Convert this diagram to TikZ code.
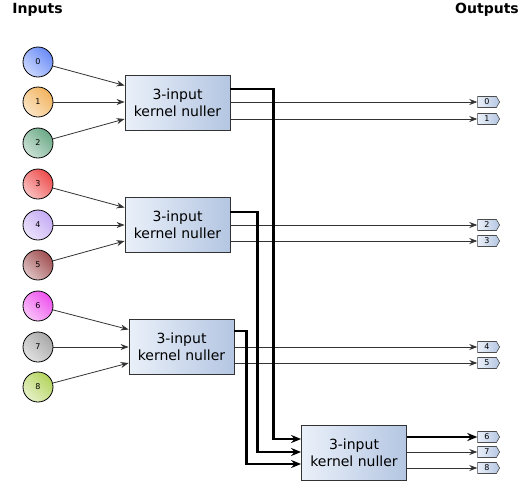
\documentclass[tikz,border=0pt]{standalone}
\usepackage{fontspec}
\setmainfont{DejaVu Sans}
\usepackage{xcolor}
\usetikzlibrary{arrows.meta,calc,positioning,shapes.symbols}
\definecolor{nullerpale}{HTML}{EAF0F9}
\definecolor{nullerdeep}{HTML}{B4C6E2}
\definecolor{wiregray}{HTML}{333333}
\definecolor{c0}{HTML}{6A8CF8}
\definecolor{c1}{HTML}{F2B45E}
\definecolor{c2}{HTML}{6CAA88}
\definecolor{c3}{HTML}{EE4C4C}
\definecolor{c4}{HTML}{C6ACF4}
\definecolor{c5}{HTML}{A04E50}
\definecolor{c6}{HTML}{EE52EE}
\definecolor{c7}{HTML}{A8A8A8}
\definecolor{c8}{HTML}{B4D45E}
\tikzset{
  inball/.style={circle,draw=black,line width=0.8pt,minimum size=30pt,inner sep=0pt,
    left color=#1!35,right color=#1,shading angle=135,font=\fontsize{8}{9}\selectfont},
  nuller/.style={draw=black!80,line width=0.8pt,minimum width=105pt,minimum height=55pt,
    align=center,left color=nullerpale,right color=nullerdeep,inner sep=0pt,
    font=\fontsize{14}{17}\selectfont},
  outtag/.style={signal,signal to=east,signal pointer angle=120,draw=black!70,line width=0.6pt,
    minimum width=22pt,minimum height=11pt,inner sep=0pt,
    left color=nullerpale,right color=nullerdeep,font=\fontsize{8}{9}\selectfont},
  wire/.style={draw=wiregray,line width=0.8pt,-{Stealth[length=8pt,width=6pt]}},
  fatwire/.style={draw=black,line width=2.6pt,-{Stealth[length=10pt,width=8pt]}},
  heading/.style={font=\fontsize{14}{16}\selectfont\bfseries}
}
\begin{document}
\begin{tikzpicture}[x=1pt,y=-1pt]
  \useasboundingbox (0,0) rectangle (522,485);
  % headings
  \node[heading] (hin) at (37.5,9.5) {Inputs};
  \node[heading] (hout) at (487,9.5) {Outputs};
  % input balls
  \foreach \i/\y in {0/62,1/102,2/143,3/184,4/225,5/265,6/306,7/347,8/387}
    \node[inball=c\i] (in\i) at (38,\y) {\i};
  % kernel nullers
  \node[nuller] (kn1) at (177.5,102.5) {3-input\\kernel nuller};
  \node[nuller] (kn2) at (177.5,224.5) {3-input\\kernel nuller};
  \node[nuller] (kn3) at (181.5,346.5) {3-input\\kernel nuller};
  \node[nuller] (kn4) at (354,453) {3-input\\kernel nuller};
  % output tags
  \foreach \i/\y in {0/102,1/119,2/225,3/241,4/347,5/363,6/437,7/452,8/468}
    \node[outtag] (out\i) at (487,\y) {\i};
  % inputs into the first three nullers
  \foreach \k/\a/\b/\c in {1/0/1/2,2/3/4/5,3/6/7/8}{
    \draw[wire] (in\a) -- ($(kn\k.west)+(0,-17)$);
    \draw[wire] (in\b) -- (kn\k.west |- in\b);
    \draw[wire] (in\c) -- ($(kn\k.west)+(0,16.5)$);
  }
  % direct outputs
  \draw[wire] (kn1.east |- out0) -- (out0.west);
  \draw[wire] (kn1.east |- out1) -- (out1.west);
  \draw[wire] (kn2.east |- out2) -- (out2.west);
  \draw[wire] (kn2.east |- out3) -- (out3.west);
  \draw[wire] (kn3.east |- out4) -- (out4.west);
  \draw[wire] (kn3.east |- out5) -- (out5.west);
  % bright outputs into the last nuller
  \draw[fatwire] ($(kn1.east)+(0,-13.5)$) -- ++(43,0) |- ($(kn4.west)+(0,-14)$);
  \draw[fatwire] ($(kn2.east)+(0,-12.5)$) -- ++(27,0) |- ($(kn4.west)+(0,-1)$);
  \draw[fatwire] ($(kn3.east)+(0,-15.5)$) -- ++(12,0) |- ($(kn4.west)+(0,11)$);
  % last nuller outputs
  \draw[fatwire] (kn4.east |- out6) -- (out6.west);
  \draw[wire] (kn4.east |- out7) -- (out7.west);
  \draw[wire] (kn4.east |- out8) -- (out8.west);
\end{tikzpicture}
\end{document}
